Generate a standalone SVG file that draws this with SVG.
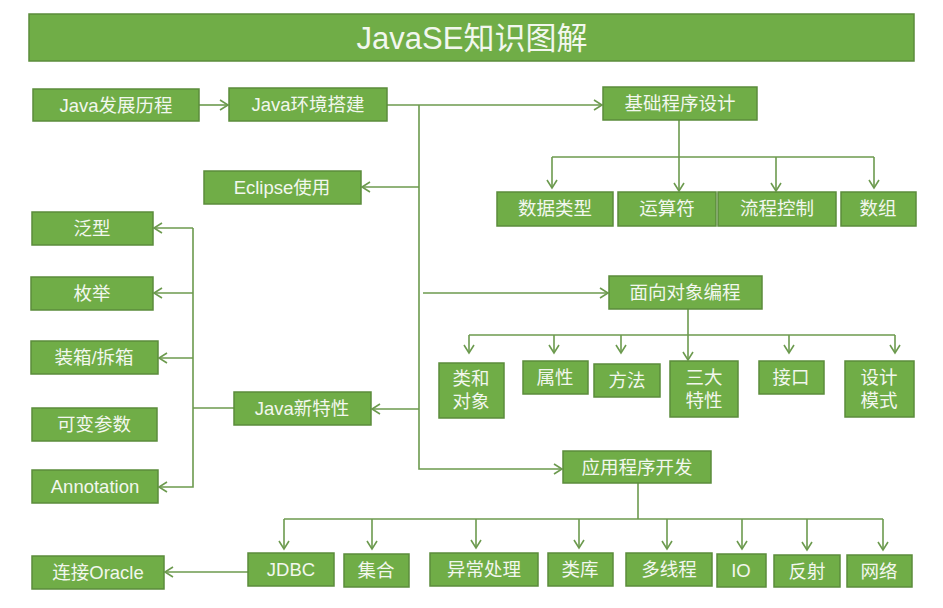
<svg xmlns="http://www.w3.org/2000/svg" width="943" height="608" viewBox="0 0 943 608">
<defs>
<style>
.n{fill:#70AD47;stroke:#5B8C3B;stroke-width:1.5}
.t{fill:#F2F7EE;font-family:"Liberation Sans","Noto Sans CJK SC",sans-serif;font-size:18.5px;text-anchor:middle}
.c line,.c polyline{stroke:#6C9A4E;stroke-width:1.6;fill:none}
.a{marker-end:url(#ah)}
</style>
<marker id="ah" markerUnits="userSpaceOnUse" markerWidth="12" markerHeight="14" refX="9" refY="6" orient="auto" viewBox="0 0 12 12">
<path d="M1,1 L9,6 L1,11" fill="none" stroke="#6C9A4E" stroke-width="1.6"/>
</marker>
</defs>
<rect width="943" height="608" fill="#FFFFFF"/>
<g id="title"><rect x="29" y="14" width="885" height="47" class="n"/><text x="472" y="49" class="t" style="font-size:31px">JavaSE知识图解</text></g>
<g class="c">
<line x1="199" y1="105" x2="228" y2="105" class="a"/>
<line x1="387" y1="105" x2="602" y2="105" class="a"/>
<polyline points="419,105 419,469 562,469" class="a"/>
<line x1="419" y1="187" x2="362" y2="187" class="a"/>
<line x1="423" y1="293" x2="608" y2="293" class="a"/>
<line x1="419" y1="409" x2="372" y2="409" class="a"/>
<line x1="234" y1="408" x2="193" y2="408"/>
<polyline points="193,228 193,487 159,487" class="a"/>
<line x1="193" y1="228" x2="154" y2="228" class="a"/>
<line x1="193" y1="293" x2="154" y2="293" class="a"/>
<line x1="193" y1="358" x2="159" y2="358" class="a"/>
<line x1="679" y1="120" x2="679" y2="191" class="a"/>
<line x1="552" y1="157" x2="874" y2="157"/>
<line x1="552" y1="157" x2="552" y2="188" class="a"/>
<line x1="776" y1="157" x2="776" y2="191" class="a"/>
<line x1="874" y1="157" x2="874" y2="188" class="a"/>
<line x1="688" y1="309" x2="688" y2="360" class="a"/>
<line x1="469" y1="335" x2="895" y2="335"/>
<line x1="469" y1="335" x2="469" y2="353" class="a"/>
<line x1="554" y1="335" x2="554" y2="353" class="a"/>
<line x1="621" y1="335" x2="621" y2="353" class="a"/>
<line x1="789" y1="335" x2="789" y2="353" class="a"/>
<line x1="895" y1="335" x2="895" y2="353" class="a"/>
<line x1="638" y1="483" x2="638" y2="519"/>
<line x1="284" y1="519" x2="883" y2="519"/>
<line x1="284" y1="519" x2="284" y2="549" class="a"/>
<line x1="372" y1="519" x2="372" y2="549" class="a"/>
<line x1="476" y1="519" x2="476" y2="548" class="a"/>
<line x1="579" y1="519" x2="579" y2="548" class="a"/>
<line x1="667" y1="519" x2="667" y2="549" class="a"/>
<line x1="742" y1="519" x2="742" y2="549" class="a"/>
<line x1="807" y1="519" x2="807" y2="550" class="a"/>
<line x1="883" y1="519" x2="883" y2="550" class="a"/>
<line x1="248" y1="572" x2="165" y2="572" class="a"/>
</g>
<g id="java-history"><rect x="33" y="89" width="166" height="32" class="n"/><text x="116" y="112" class="t">Java发展历程</text></g>
<g id="java-env"><rect x="229" y="88" width="158" height="33" class="n"/><text x="308" y="111" class="t">Java环境搭建</text></g>
<g id="eclipse"><rect x="204" y="171" width="157" height="33" class="n"/><text x="282" y="194" class="t">Eclipse使用</text></g>
<g id="generic"><rect x="32" y="212" width="121" height="33" class="n"/><text x="92" y="235" class="t">泛型</text></g>
<g id="enum"><rect x="31" y="277" width="122" height="33" class="n"/><text x="92" y="300" class="t">枚举</text></g>
<g id="boxing"><rect x="31" y="341" width="127" height="33" class="n"/><text x="94" y="364" class="t">装箱/拆箱</text></g>
<g id="varargs"><rect x="32" y="408" width="125" height="33" class="n"/><text x="94" y="431" class="t">可变参数</text></g>
<g id="annotation"><rect x="32" y="470" width="126" height="33" class="n"/><text x="95" y="493" class="t">Annotation</text></g>
<g id="java-new"><rect x="234" y="392" width="137" height="33" class="n"/><text x="302" y="415" class="t">Java新特性</text></g>
<g id="basic"><rect x="603" y="87" width="154" height="33" class="n"/><text x="680" y="110" class="t">基础程序设计</text></g>
<g id="datatype"><rect x="497" y="192" width="116" height="34" class="n"/><text x="555" y="215" class="t">数据类型</text></g>
<g id="operator"><rect x="618" y="192" width="98" height="34" class="n"/><text x="667" y="215" class="t">运算符</text></g>
<g id="flow"><rect x="718" y="192" width="118" height="34" class="n"/><text x="777" y="215" class="t">流程控制</text></g>
<g id="array"><rect x="841" y="192" width="75" height="34" class="n"/><text x="878" y="215" class="t">数组</text></g>
<g id="oop"><rect x="609" y="276" width="153" height="33" class="n"/><text x="685" y="299" class="t">面向对象编程</text></g>
<g id="class-object"><rect x="439" y="363" width="65" height="55" class="n"/><text x="471" y="385" class="t">类和</text><text x="471" y="408" class="t">对象</text></g>
<g id="attribute"><rect x="523" y="361" width="65" height="33" class="n"/><text x="555" y="384" class="t">属性</text></g>
<g id="method"><rect x="594" y="364" width="66" height="33" class="n"/><text x="627" y="387" class="t">方法</text></g>
<g id="three"><rect x="670" y="361" width="68" height="56" class="n"/><text x="704" y="384" class="t">三大</text><text x="704" y="407" class="t">特性</text></g>
<g id="interface"><rect x="759" y="361" width="65" height="33" class="n"/><text x="791" y="384" class="t">接口</text></g>
<g id="pattern"><rect x="845" y="361" width="69" height="56" class="n"/><text x="879" y="384" class="t">设计</text><text x="879" y="407" class="t">模式</text></g>
<g id="app"><rect x="563" y="451" width="148" height="32" class="n"/><text x="637" y="474" class="t">应用程序开发</text></g>
<g id="oracle"><rect x="32" y="556" width="132" height="33" class="n"/><text x="98" y="579" class="t">连接Oracle</text></g>
<g id="jdbc"><rect x="248" y="553" width="86" height="33" class="n"/><text x="291" y="576" class="t">JDBC</text></g>
<g id="collection"><rect x="344" y="554" width="65" height="33" class="n"/><text x="376" y="577" class="t">集合</text></g>
<g id="exception"><rect x="430" y="553" width="108" height="33" class="n"/><text x="484" y="576" class="t">异常处理</text></g>
<g id="library"><rect x="548" y="553" width="65" height="33" class="n"/><text x="580" y="576" class="t">类库</text></g>
<g id="thread"><rect x="626" y="553" width="86" height="33" class="n"/><text x="669" y="576" class="t">多线程</text></g>
<g id="io"><rect x="717" y="554" width="49" height="33" class="n"/><text x="741" y="577" class="t">IO</text></g>
<g id="reflect"><rect x="774" y="555" width="66" height="32" class="n"/><text x="807" y="578" class="t">反射</text></g>
<g id="network"><rect x="847" y="555" width="65" height="32" class="n"/><text x="879" y="578" class="t">网络</text></g>
</svg>
